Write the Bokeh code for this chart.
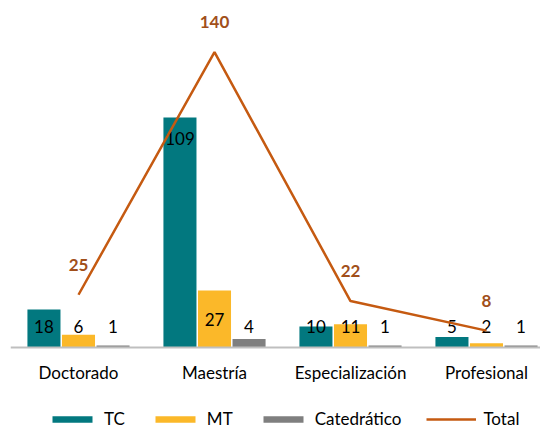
import numpy as np
from bokeh.plotting import figure
from bokeh.models import ColumnDataSource, Legend, LegendItem, Range1d, Span
from bokeh.core.properties import value
from bokeh.embed import file_html
from bokeh.resources import INLINE

categories = ["Doctorado", "Maestría", "Especialización", "Profesional"]
tc = [18, 109, 10, 5]
mt = [6, 27, 11, 2]
catedratico = [1, 4, 1, 1]
total = [25, 140, 22, 8]

FONT = "Lato"
C_TC = "#02787F"
C_MT = "#FBB829"
C_CAT = "#7F7F7F"
C_TOT = "#C55A11"
C_TOT_LBL = "#A14F1A"

PX_X = 136.0
PX_Y = 2.11
FW, FH = 530, 428
BASE = 347  # pixel row of the baseline from top
idx = np.arange(len(categories))
off = 0.254
bw = 0.243

p = figure(frame_width=FW, frame_height=FH, output_backend="svg", toolbar_location=None,
           x_range=Range1d(-0.5, -0.5 + FW / PX_X),
           y_range=Range1d(-(FH - BASE) / PX_Y, BASE / PX_Y),
           x_axis_location=None, y_axis_location=None,
           min_border_left=10, min_border_right=0, min_border_top=0, min_border_bottom=0)
p.outline_line_color = None
p.xgrid.visible = False
p.ygrid.visible = False
p.background_fill_color = "white"
p.border_fill_color = "white"


def label_pos(vals):
    v = np.array(vals, dtype=float)
    return np.where(v > 50, v - 10, np.maximum(v / 2, 10))


renderers = {}
for name, vals, dx, col in [("TC", tc, -off, C_TC), ("MT", mt, 0.0, C_MT),
                            ("Catedrático", catedratico, off, C_CAT)]:
    src = ColumnDataSource(dict(x=idx + dx, top=vals, ly=label_pos(vals),
                                txt=[str(v) for v in vals]))
    r = p.vbar(x="x", top="top", bottom=0, width=bw, source=src, fill_color=col,
               line_color=None)
    renderers[name] = r
    p.text(x="x", y="ly", text="txt", source=src, text_align="center",
           text_baseline="middle", text_font=value(FONT), text_font_size="17px",
           text_color="black")

# baseline (category axis line)
p.add_layout(Span(location=0, dimension="width", line_color="#BFBFBF", line_width=2))

# category labels
csrc = ColumnDataSource(dict(x=idx, y=np.zeros(len(idx)), txt=categories))
p.text(x="x", y="y", text="txt", source=csrc, y_offset=25, text_align="center",
       text_baseline="middle", text_font=value(FONT), text_font_size="17px",
       text_color="black")

tsrc = ColumnDataSource(dict(x=idx, y=total, txt=[str(v) for v in total]))
rl = p.line(x="x", y="y", source=tsrc, line_color=C_TOT, line_width=2.5)
renderers["Total"] = rl
p.text(x="x", y="y", text="txt", source=tsrc, y_offset=-30, text_align="center",
       text_baseline="middle", text_font=value(FONT), text_font_size="17px",
       text_font_style="bold", text_color=C_TOT_LBL)

leg = Legend(items=[LegendItem(label=n, renderers=[renderers[n]])
                    for n in ["TC", "MT", "Catedrático", "Total"]],
             location=(37, -1), orientation="horizontal", spacing=25,
             glyph_width=50, glyph_height=8, label_standoff=7, padding=0, margin=0,
             border_line_color=None, background_fill_alpha=0,
             label_text_font=FONT, label_text_font_size="17px", label_height=20,
             label_text_color="black")
p.add_layout(leg)

open("out.html", "w").write(file_html(p, INLINE))
